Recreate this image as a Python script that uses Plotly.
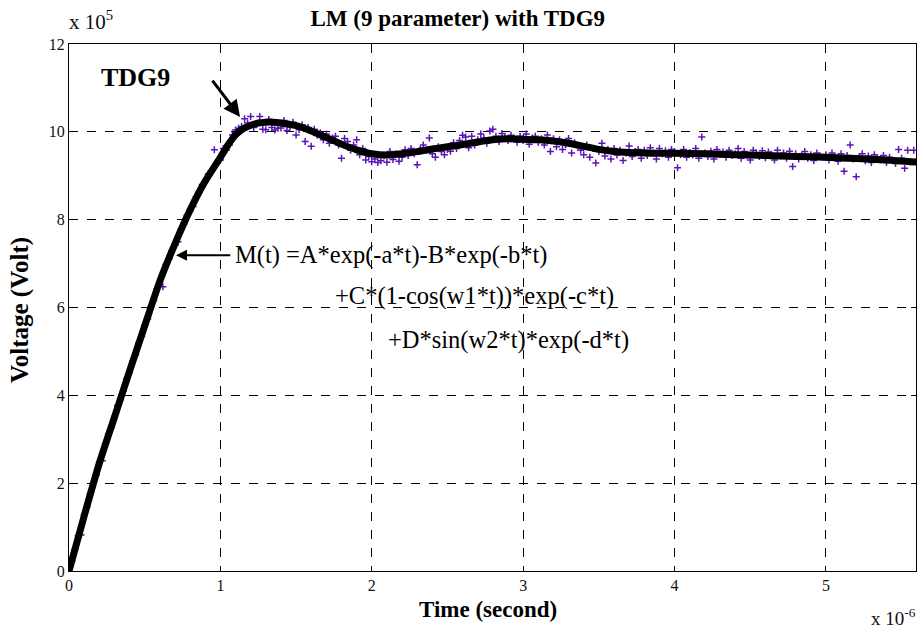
import numpy as np
import plotly.graph_objects as go

# ---- data (time in microseconds, voltage in 1e5 V) ----
fit_t = [0.0, 0.1, 0.2, 0.3, 0.4, 0.5, 0.6, 0.7, 0.8, 0.9, 1.0, 1.05, 1.1, 1.15, 1.2,
         1.25, 1.3, 1.35, 1.4, 1.5, 1.6, 1.7, 1.8, 1.9, 2.0, 2.1, 2.2, 2.3, 2.4, 2.5,
         2.6, 2.7, 2.8, 2.9, 3.0, 3.1, 3.2, 3.3, 3.4, 3.5, 3.6, 3.7, 3.8, 3.9, 4.0,
         4.2, 4.4, 4.6, 4.8, 5.0, 5.2, 5.4, 5.6]
fit_v = [0.0, 1.25, 2.45, 3.5, 4.55, 5.58, 6.6, 7.45, 8.22, 8.88, 9.42, 9.7, 9.93, 10.07, 10.15,
         10.2, 10.22, 10.22, 10.2, 10.14, 10.02, 9.87, 9.72, 9.59, 9.5, 9.47, 9.5, 9.55, 9.61, 9.66,
         9.71, 9.77, 9.82, 9.84, 9.83, 9.82, 9.79, 9.74, 9.67, 9.6, 9.55, 9.53, 9.52, 9.51, 9.51,
         9.5, 9.48, 9.46, 9.44, 9.42, 9.39, 9.36, 9.31]

meas_step_us = 0.02
meas_v = [
    0.00, 0.22, 0.50, 0.80, 0.82, 1.28, 1.46, 1.76, 2.00, 2.18,
    2.48, 2.51, 2.90, 3.12, 3.26, 3.52, 3.77, 3.90, 4.10, 4.38,
    4.52, 4.78, 4.92, 5.20, 5.34, 5.60, 5.74, 6.02, 6.16, 6.42,
    6.58, 6.47, 6.98, 7.10, 7.30, 7.42, 7.50, 7.78, 7.90, 8.10,
    8.20, 8.30, 8.52, 8.62, 8.80, 8.87, 9.04, 9.10, 9.59, 9.30,
    9.36, 9.62, 9.58, 9.70, 9.93, 10.04, 10.08, 10.12, 10.30, 10.20,
    10.35, 10.10, 10.18, 10.35, 10.06, 10.05, 10.28, 10.10, 10.04, 10.08,
    10.09, 10.26, 10.03, 10.12, 10.22, 9.93, 10.05, 10.16, 9.78, 10.10,
    9.67, 10.06, 9.92, 9.98, 9.82, 9.95, 9.74, 9.86, 9.90, 9.70,
    9.40, 9.85, 9.78, 9.58, 9.70, 9.82, 9.48, 9.62, 9.36, 9.44,
    9.32, 9.38, 9.30, 9.34, 9.45, 9.31, 9.55, 9.37, 9.50, 9.33,
    9.42, 9.59, 9.46, 9.62, 9.50, 9.25, 9.60, 9.70, 9.58, 9.86,
    9.50, 9.42, 9.66, 9.55, 9.48, 9.60, 9.56, 9.75, 9.62, 9.80,
    9.92, 9.88, 9.64, 9.90, 9.70, 9.82, 9.95, 9.86, 9.74, 10.02,
    10.06, 9.90, 9.78, 9.96, 9.88, 9.80, 9.92, 9.85, 9.76, 9.90,
    9.80, 9.95, 9.72, 9.86, 9.90, 9.76, 9.84, 9.70, 9.93, 9.55,
    9.84, 9.66, 9.82, 9.60, 9.71, 9.85, 9.52, 9.75, 9.68, 9.58,
    9.48, 9.70, 9.42, 9.62, 9.29, 9.55, 9.74, 9.45, 9.60, 9.38,
    9.62, 9.47, 9.58, 9.35, 9.52, 9.68, 9.44, 9.55, 9.60, 9.40,
    9.58, 9.46, 9.64, 9.52, 9.38, 9.62, 9.50, 9.57, 9.42, 9.60,
    9.55, 9.18, 9.48, 9.60, 9.42, 9.53, 9.47, 9.62, 9.40, 9.88,
    9.52, 9.44, 9.56, 9.38, 9.60, 9.49, 9.54, 9.42, 9.58, 9.46,
    9.50, 9.62, 9.40, 9.55, 9.47, 9.36, 9.58, 9.52, 9.44, 9.57,
    9.41, 9.54, 9.49, 9.36, 9.58, 9.45, 9.52, 9.40, 9.56, 9.21,
    9.50, 9.38, 9.46, 9.55, 9.40, 9.48, 9.35, 9.52, 9.45, 9.42,
    9.48, 9.36, 9.52, 9.44, 9.33, 9.50, 9.10, 9.46, 9.70, 9.38,
    8.98, 9.42, 9.50, 9.34, 9.45, 9.30, 9.48, 9.40, 9.36, 9.46,
    9.30, 9.42, 9.35, 9.28, 9.60, 9.40, 9.17, 9.58, 9.32, 9.58,
]
meas_t = [round(i * meas_step_us, 2) for i in range(len(meas_v))]

x_ticks = [0, 1, 2, 3, 4, 5]
y_ticks = [0, 2, 4, 6, 8, 10, 12]

SERIF = "Liberation Serif"
PURPLE = "#5d14b8"

fig = go.Figure()
fig.add_trace(go.Scatter(
    x=meas_t, y=meas_v, mode="markers",
    marker=dict(symbol="cross-thin", size=5, line=dict(color=PURPLE, width=1.5), color=PURPLE),
    showlegend=False, hoverinfo="skip"))
fig.add_trace(go.Scatter(
    x=fit_t, y=fit_v, mode="lines", line=dict(color="black", width=7, shape="spline", smoothing=0.6),
    showlegend=False, hoverinfo="skip"))

axis_common = dict(
    showline=True, linecolor="black", linewidth=1, mirror="ticks",
    ticks="inside", ticklen=5, tickcolor="black", tickwidth=1,
    showgrid=True, gridcolor="black", gridwidth=1, griddash="dash",
    zeroline=False, tickfont=dict(family=SERIF, size=16, color="#111"),
)
fig.update_xaxes(range=[0, 5.595], tickvals=x_ticks, ticktext=[str(v) for v in x_ticks], **axis_common)
fig.update_yaxes(range=[0, 12], tickvals=y_ticks, ticktext=[str(v) for v in y_ticks], **axis_common)

ann = []
# axis labels and multipliers (paper coordinates)
ann.append(dict(x=0.495, y=-0.074, xref="paper", yref="paper", text="<b>Time (second)</b>", showarrow=False,
                xanchor="center", yanchor="middle", font=dict(family=SERIF, size=23, color="black")))
ann.append(dict(x=-0.058, y=0.495, xref="paper", yref="paper", text="<b>Voltage (Volt)</b>", showarrow=False,
                xanchor="center", yanchor="middle", textangle=-90,
                font=dict(family=SERIF, size=25, color="black")))
ann.append(dict(x=-0.002, y=1.045, xref="paper", yref="paper", text="x 10<sup>5</sup>", showarrow=False,
                xanchor="left", yanchor="middle", font=dict(family=SERIF, size=21, color="#111")))
ann.append(dict(x=0.944, y=-0.088, xref="paper", yref="paper", text="x 10<sup>-6</sup>", showarrow=False,
                xanchor="left", yanchor="middle", font=dict(family=SERIF, size=19, color="#111")))
# TDG9 label + arrow
ann.append(dict(x=0.436, y=11.23, xref="x", yref="y", text="<b>TDG9</b>", showarrow=False,
                font=dict(family=SERIF, size=26, color="black")))
ann.append(dict(x=1.13, y=10.34, ax=0.94, ay=11.2, xref="x", yref="y", axref="x", ayref="y",
                text="", showarrow=True, arrowhead=2, arrowsize=1.1, arrowwidth=3, arrowcolor="black"))
# equation
eq_font = dict(family=SERIF, size=24.5, color="black")
ann.append(dict(x=1.083, y=7.19, xref="x", yref="y", text="M(t) =A*exp(-a*t)-B*exp(-b*t)",
                showarrow=False, xanchor="left", font=eq_font))
ann.append(dict(x=0.707, y=7.19, ax=1.075, ay=7.19, xref="x", yref="y", axref="x", ayref="y",
                text="", showarrow=True, arrowhead=2, arrowsize=1.1, arrowwidth=2, arrowcolor="black"))
ann.append(dict(x=1.744, y=6.26, xref="x", yref="y", text="+C*(1-cos(w1*t))*exp(-c*t)",
                showarrow=False, xanchor="left", font=eq_font))
ann.append(dict(x=2.094, y=5.27, xref="x", yref="y", text="+D*sin(w2*t)*exp(-d*t)",
                showarrow=False, xanchor="left", font=eq_font))

fig.update_layout(
    width=920, height=630,
    margin=dict(l=69, r=4, t=44, b=59),
    paper_bgcolor="white", plot_bgcolor="white",
    title=dict(text="<b>LM (9 parameter) with TDG9</b>", x=0.459, xref="paper", xanchor="center",
               y=1 - 18 / 630, yref="container", yanchor="middle",
               font=dict(family=SERIF, size=23, color="black")),
    annotations=ann,
)

fig.write_html("out.html")
